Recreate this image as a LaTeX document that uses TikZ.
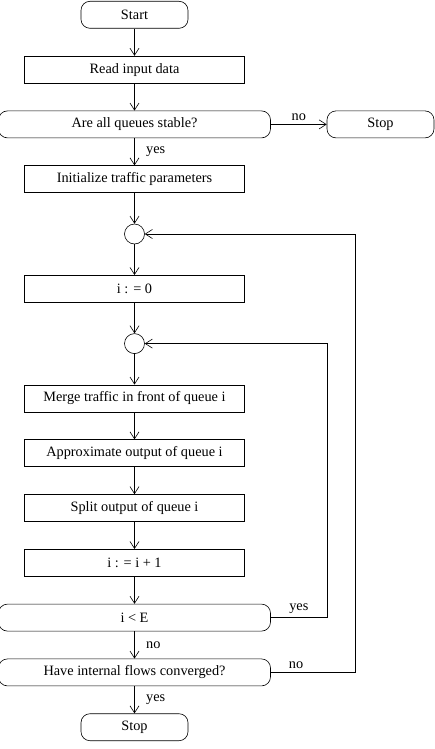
\documentclass[tikz,border=0pt]{standalone}
\usepackage{fontspec}
\setmainfont{Liberation Serif}
\usetikzlibrary{arrows.meta}

\begin{document}
\begin{tikzpicture}[-,>={Straight Barb[length=7pt,width=9pt]},x=1pt,y=-1pt,line width=0.6pt,node distance=54.8pt,font=\fontsize{14.3}{17}\selectfont,
    box node/.style={rectangle,draw,minimum width=220pt,minimum height=27pt,inner sep=0pt},
    term node/.style={rectangle,draw,rounded corners=9pt,minimum width=107pt,minimum height=27pt,inner sep=0pt},
    test node/.style={rectangle,draw,rounded corners=9pt,minimum width=272pt,minimum height=27pt,inner sep=0pt},
    join node/.style={circle,draw,minimum size=20pt,inner sep=0pt}]

            \useasboundingbox (0,0) rectangle (435,749);

            \node[term node]  (1) at (134.5,14.8) {Start};
            \node[box node]   (2) [below of = 1]{Read input data};
            \node[test node]  (3) [below of = 2]{Are all queues stable?};
            \node[term node]  (4) [node distance=246pt, right of = 3]{Stop};
            \node[box node]   (5) [below of = 3]{Initialize traffic parameters};
            \node[join node]  (6) [below of = 5]{};
            \node[box node]   (7) [below of = 6]{i : = 0};
            \node[join node]  (8) [below of = 7]{};
            \node[box node]   (9) [below of = 8]{Merge traffic in front of queue i};
            \node[box node]  (10) [below of = 9]{Approximate output of queue i};
            \node[box node]  (11) [below of = 10]{Split output of queue i};
            \node[box node]  (12) [below of = 11]{i : = i + 1};
            \node[test node] (13) [below of = 12]{i < E};
            \node[test node] (14) [below of = 13]{Have internal flows converged?};
            \node[term node] (15) [below of = 14]{Stop};

            % main line
            \draw[->] (1) to (2);
            \draw[->] (2) to (3);
            \draw[->] (3) to node[above]{no} (4);
            \draw[->] (3) to node[right=8pt]{yes} (5);
            \draw[->] (5) to (6);
            \draw[->] (6) to (7);
            \draw[->] (7) to (8);
            \draw[->] (8) to (9);
            \draw[->] (9) to (10);
            \draw[->] (10) to (11);
            \draw[->] (11) to (12);
            \draw[->] (12) to (13);
            \draw[->] (13) to node[right=8pt]{no} (14);
            \draw[->] (14) to node[right=8pt]{yes} (15);

            % loops back
            \draw[->] (13.east) -- ++(56pt,0) node[midway,above]{yes} |- (8);
            \draw[->] (14.east) -- ++(84pt,0) node[pos=0.3,above]{no} |- (6);

        \end{tikzpicture}
\end{document}
